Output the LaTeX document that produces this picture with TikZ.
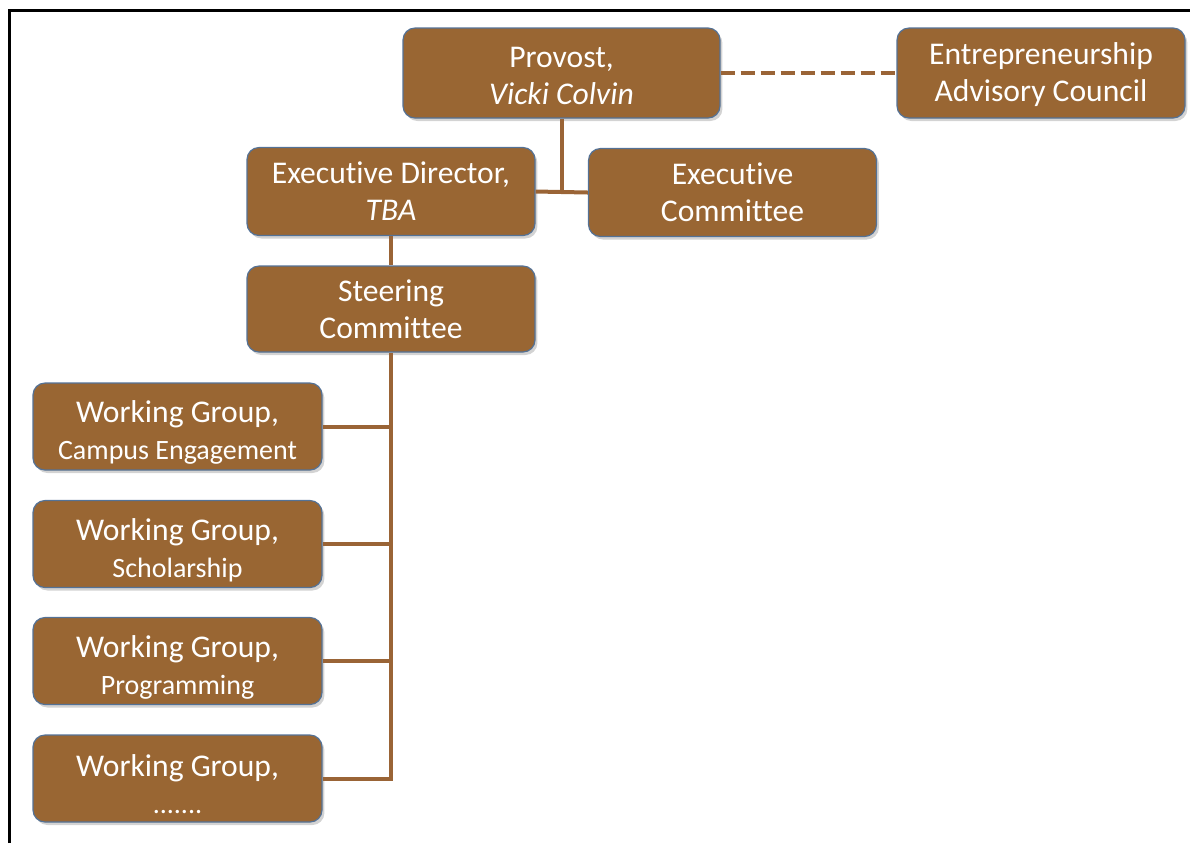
\documentclass[tikz,border=0pt]{standalone}
\usepackage{fontspec}
\setmainfont{Carlito}[Ligatures=NoCommon]
\usetikzlibrary{shadows}
\definecolor{boxfill}{RGB}{153,102,51}
\definecolor{boxedge}{RGB}{84,114,150}
\definecolor{conn}{RGB}{154,100,54}
\tikzset{
  orgbox/.style={draw=boxedge, line width=0.6pt, fill=boxfill, rounded corners=6pt,
    text=white, align=center, inner sep=0pt,
    drop shadow={opacity=0.35, shadow xshift=1.2pt, shadow yshift=-1.5pt},
    font=\fontsize{15.8}{18.5}\selectfont},
  topbox/.style={orgbox, minimum width=158.5pt, minimum height=45pt},
  midbox/.style={orgbox, minimum width=144pt, minimum height=44pt},
  wgbox/.style={orgbox, minimum width=144.5pt, minimum height=43.5pt},
  link/.style={draw=conn, line width=2pt},
  dashlink/.style={link, dash pattern=on 7pt off 3pt},
  frameline/.style={draw=black, line width=1.5pt}
}
\newcommand{\smalltxt}[1]{{\fontsize{14}{18}\selectfont #1}}
\newcommand{\wgstrut}{\rule{0pt}{17pt}}
\newcommand{\topstrut}{\rule{0pt}{13pt}}
\begin{document}
\begin{tikzpicture}[x=0.5pt,y=-0.5pt]
\useasboundingbox (0,0) rectangle (1192,843);
\coordinate (frA) at (9,843);
\coordinate (frB) at (9,10);
\coordinate (frC) at (1190,10);
\draw[frameline] (frA) -- (frB) -- (frC);

\node[topbox] (prov) at (561.5,73) {\topstrut Provost,\\\textit{Vicki Colvin}};
\node[minimum width=144pt, minimum height=45pt, orgbox] (eac) at (1041,73) {\topstrut Entrepreneurship\\Advisory Council};
\node[midbox] (ed) at (391,191.5) {Executive Director,\\\textit{TBA}};
\node[midbox] (ec) at (732.5,192.5) {Executive\\Committee};
\node[midbox, minimum height=43pt] (stc) at (391,309) {Steering\\Committee};
\node[wgbox] (wg1) at (177.5,426.5) {\wgstrut Working Group,\\\smalltxt{Campus Engagement}};
\node[wgbox] (wg2) at (177.5,544) {\wgstrut Working Group,\\\smalltxt{Scholarship}};
\node[wgbox] (wg3) at (177.5,661) {\wgstrut Working Group,\\\smalltxt{Programming}};
\node[wgbox] (wg4) at (177.5,778.5) {\wgstrut Working Group,\\\smalltxt{.......}};

\draw[dashlink] (prov.east) -- (eac.west);
\draw[link] (ed.east) -- (ec.west);
\draw[link] (prov.south) -- (prov.south |- ed.east);
\draw[link] (ed.south) -- (stc.north);
\draw[link] (stc.south) |- (wg4.east);
\draw[link] (wg1.east) -- (wg1.east -| stc.south);
\draw[link] (wg2.east) -- (wg2.east -| stc.south);
\draw[link] (wg3.east) -- (wg3.east -| stc.south);
\end{tikzpicture}
\end{document}
